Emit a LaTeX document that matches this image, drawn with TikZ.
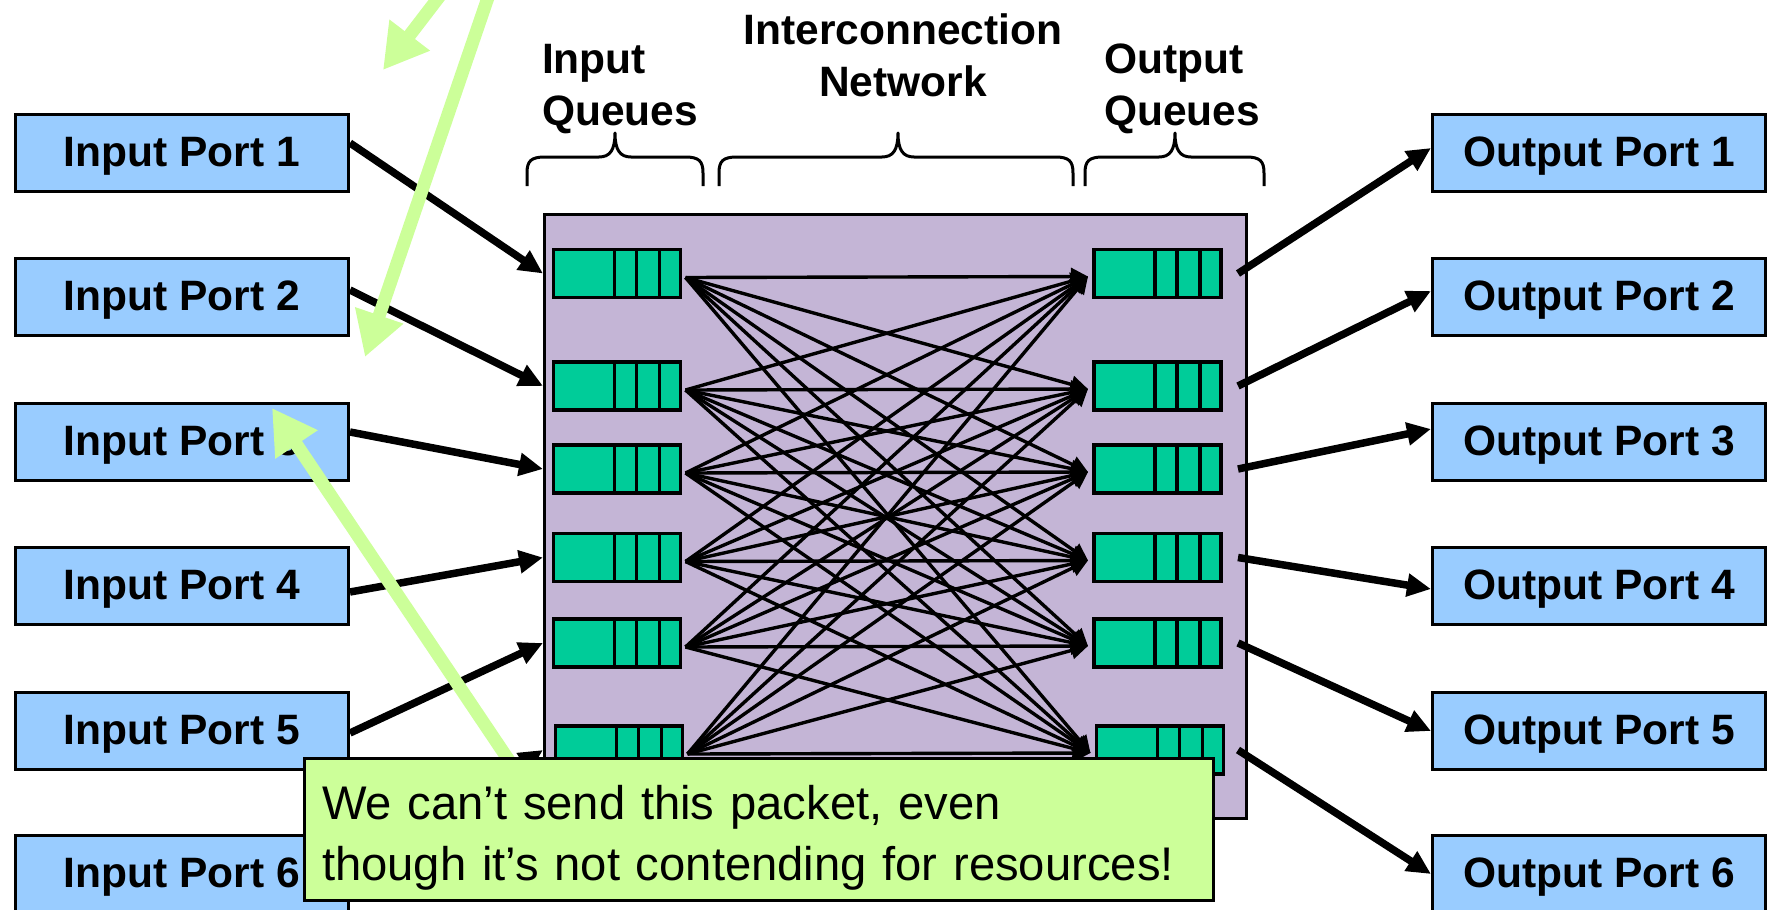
\documentclass[tikz,border=0pt]{standalone}
\usepackage{fontspec}
\setmainfont{Liberation Sans}
\usetikzlibrary{arrows.meta,calc}

\definecolor{portblue}{HTML}{99CCFF}
\definecolor{fabricpurple}{RGB}{196,181,214}
\definecolor{queuegreen}{HTML}{00CC99}
\definecolor{notegreen}{HTML}{CCFF99}

\begin{document}
\begin{tikzpicture}[x=0.5pt,y=-0.5pt,
  port/.style={draw=black,line width=1.5pt,fill=portblue,minimum width=166.5pt,
    minimum height=38.5pt,inner sep=0pt,text height=13.5pt,text depth=0pt,
    font=\fontsize{21.25}{25}\selectfont\bfseries},
  fabric/.style={draw=black,line width=1.5pt,fill=fabricpurple,minimum width=351pt,
    minimum height=302pt,inner sep=0pt},
  queue/.style={draw=black,line width=1.6pt,fill=queuegreen,minimum width=63.5pt,
    minimum height=24pt,inner sep=0pt,outer sep=0pt},
  qdiv/.style={line width=1.6pt},
  heading/.style={font=\fontsize{21.25}{26}\selectfont\bfseries,inner sep=0pt},
  feed/.style={line width=3.75pt,-{Triangle[length=12pt,width=11pt]}},
  link/.style={line width=1.7pt,-{Triangle[length=8.5pt,width=8.5pt]}},
  hint/.style={draw=notegreen,line width=6.5pt,-{Triangle[length=22pt,width=24pt]}},
  brace/.style={line width=1.5pt,line join=round},
  note/.style={draw=black,line width=1.5pt,fill=notegreen,minimum width=454.5pt,
    minimum height=71pt,inner xsep=8.75pt,inner ysep=0pt,text width=437pt,align=left,
    font=\fontsize{23.6}{30.5}\selectfont}
]
\useasboundingbox (0,0) rectangle (1769,910);
\clip (0,0) rectangle (1769,910);

% ports
\foreach \k/\y in {1/153,2/297,3/442,4/586,5/731,6/874}{
  \node[port] (ip\k) at (182,\y) {Input Port \k};
  \node[port] (op\k) at (1599,\y) {Output Port \k};
}

% switch fabric
\node[fabric] (fabric) at (895.5,516.5) {};

% input and output queues
\foreach \k/\xi/\xo/\y in {1/617/1157.5/273.5,2/617/1157.5/386,3/617/1157.5/469,
                           4/617/1157.5/557.5,5/617/1157.5/643,6/619/1160/750}{
  \node[queue] (iq\k) at (\xi,\y) {};
  \node[queue] (oq\k) at (\xo,\y) {};
  \foreach \d in {61,83,106}{
    \draw[qdiv] ($(iq\k.north west)+(\d,0)$) -- ($(iq\k.south west)+(\d,0)$);
    \draw[qdiv] ($(oq\k.north west)+(\d,0)$) -- ($(oq\k.south west)+(\d,0)$);
  }
  \coordinate (src\k) at ($(iq\k.east)+(5,4)$);
  \coordinate (dst\k) at ($(oq\k.west)+(-6,3)$);
}

% crossbar links
\foreach \i in {1,...,6}{
  \foreach \j in {1,...,6}{
    \draw[link] (src\i) -- (dst\j);
  }
}

% port feeds into and out of the switch
\foreach \k/\a/\b in {1/-10/-5,2/-7/-6,3/-10/-13,4/6/3,5/2/0,6/0/0}{
  \draw[feed] ($(ip\k.east)+(0,\a)$) -- (fabric.west |- iq\k);
  \draw[feed] ($(fabric.east |- oq\k)+(-10,0)$) -- ($(op\k.west)+(0,\b)$);
}

% braces over the three stages
\foreach \l/\m/\r in {527/615/703,719/898/1073,1085/1175/1264}{
  \draw[brace] (\l,186) -- (\l,173) .. controls (\l,161) and (\l+4,157) .. (\l+18,157)
    -- (\m-16,157) .. controls (\m-5,157) and (\m,150) .. (\m,133)
    .. controls (\m,150) and (\m+5,157) .. (\m+16,157)
    -- (\r-18,157) .. controls (\r-4,157) and (\r,161) .. (\r,173) -- (\r,186);
}
\node[heading,align=left] (hin) at (620,89) {Input\\Queues};
\node[heading,align=center] (hnet) at (903,55) {Interconnection\\Network};
\node[heading,align=left] (hout) at (1182,89) {Output\\Queues};

% pointers
\coordinate (hintA0) at (494,-20);
\coordinate (hintA) at (365,357);
\coordinate (hintB0) at (452,-20);
\coordinate (hintB) at (383,70);
\coordinate (hintC0) at (514,768);
\coordinate (hintC) at (272,408);
\draw[hint] (hintA0) -- (hintA);
\draw[hint] (hintB0) -- (hintB);
\draw[hint] (hintC0) -- (hintC);

% callout (the strut on the first line lowers the text block a little)
\node[note] (note) at (759,829.5) {\rule{0pt}{25.5pt}We can’t send this packet, even\\though it’s not contending for resources!};
\end{tikzpicture}
\end{document}
